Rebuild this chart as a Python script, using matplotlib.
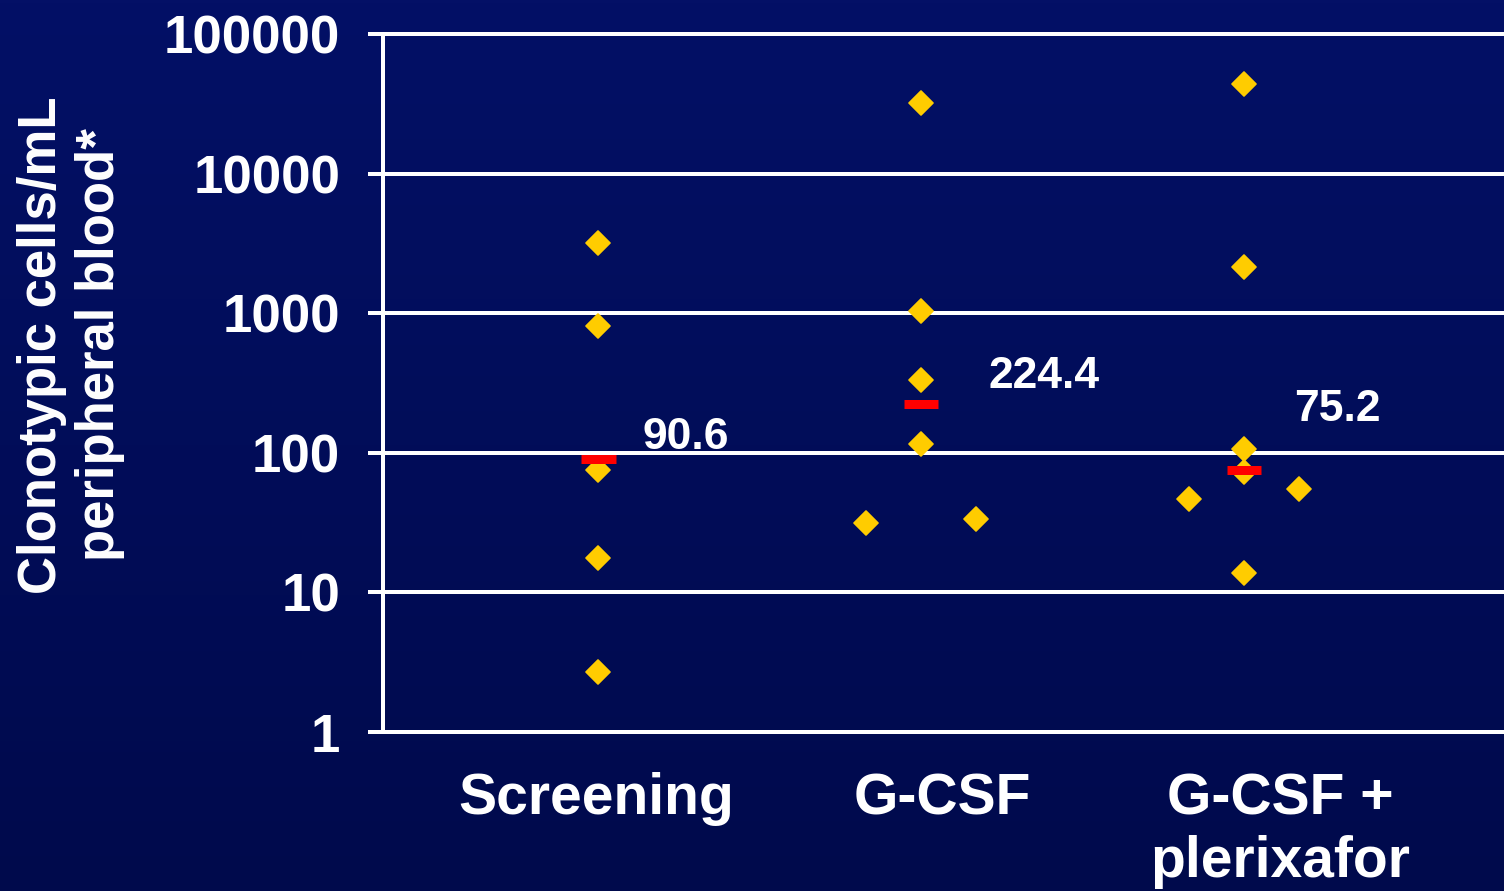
import numpy as np
import matplotlib

matplotlib.use("Agg")
import matplotlib.pyplot as plt
from matplotlib import transforms
from matplotlib.markers import MarkerStyle
from matplotlib.ticker import FixedLocator, NullLocator

plt.rcParams["font.family"] = ["Liberation Sans", "DejaVu Sans"]
plt.rcParams["font.weight"] = "bold"

# Groups and per-patient values (clonotypic cells / mL peripheral blood)
categories = ["Screening", "G-CSF", "G-CSF +\nplerixafor"]
screening_values = [3200, 810, 75, 17.6, 2.7]
gcsf_values = [32000, 1040, 333, 116, 31.4, 33.6]
plerixafor_values = [43800, 2150, 106, 73, 13.8, 46.7, 55]
# horizontal side slot of each point (-1 left, 0 centre, +1 right)
screening_slots = [0, 0, 0, 0, 0]
gcsf_slots = [0, 0, 0, 0, -1, 1]
plerixafor_slots = [0, 0, 0, 0, 0, -1, 1]
median_values = [90.6, 224.4, 75.2]
median_labels = ["90.6", "224.4", "75.2"]
y_ticks = [1, 10, 100, 1000, 10000, 100000]

WHITE = "#FFFFFF"
GOLD = "#FFCC00"
RED = "#FF0000"
PX = 72 / 100  # points per pixel at dpi 100

fig = plt.figure(figsize=(15.04, 8.91), dpi=100)

# dark navy backdrop with a slight vertical gradient
bg = fig.add_axes([0, 0, 1, 1], zorder=-10)
grad = np.linspace(0, 1, 256).reshape(-1, 1)
top = np.array([3, 16, 102]) / 255
bottom = np.array([0, 10, 76]) / 255
bg.imshow(top + (bottom - top) * grad[..., None], aspect="auto",
          extent=[0, 1, 0, 1])
bg.axis("off")

ax = fig.add_axes([383 / 1504, 1 - 732 / 891, 1 - 383 / 1504, (732 - 34) / 891])
ax.patch.set_alpha(0)
ax.set_yscale("log")
ax.set_ylim(1, 100000)
ax.set_xlim(-0.666, 2.805)

ax.yaxis.set_major_locator(FixedLocator(y_ticks))
ax.yaxis.set_minor_locator(NullLocator())
ax.set_yticklabels([str(v) for v in y_ticks])
ax.grid(axis="y", color=WHITE, linewidth=4 * PX, zorder=1)
ax.set_axisbelow(True)

for side in ("left", "bottom", "top"):
    ax.spines[side].set_color(WHITE)
    ax.spines[side].set_linewidth(4 * PX)
ax.spines["right"].set_visible(False)

ax.tick_params(axis="y", direction="out", length=15 * PX, width=4 * PX,
               color=WHITE, labelcolor=WHITE, labelsize=38, pad=20)
ax.tick_params(axis="x", length=0, labelcolor=WHITE, labelsize=41, pad=29)

ax.set_xticks(range(len(categories)))
ax.set_xticklabels(categories, linespacing=1.2)
label_shift_px = [-2, 21, 36]
for lab, dx in zip(ax.get_xticklabels(), label_shift_px):
    lab.set_transform(lab.get_transform()
                      + transforms.ScaledTranslation(dx / 100, 0, fig.dpi_scale_trans))

diamond = MarkerStyle("D", joinstyle="round")
side_step = 0.17
groups = [(screening_values, screening_slots),
          (gcsf_values, gcsf_slots),
          (plerixafor_values, plerixafor_slots)]
for i, (vals, slots) in enumerate(groups):
    xs = [i + s * side_step for s in slots]
    ax.plot(xs, vals, linestyle="none", marker=diamond, markersize=12.5,
            markerfacecolor=GOLD, markeredgecolor=GOLD, markeredgewidth=1.2,
            zorder=3, clip_on=False)

# median bars and their value labels
label_offsets_px = [(88, 21), (123, 27), (93, 61)]
half = 0.054
for i, (m, txt, (dx, dy)) in enumerate(zip(median_values, median_labels,
                                           label_offsets_px)):
    ax.plot([i - half, i + half], [m, m], color=RED, linewidth=9 * PX,
            solid_capstyle="butt", zorder=4)
    ax.annotate(txt, xy=(i, m), xytext=(dx, dy), textcoords="offset pixels",
                ha="center", va="center", color=WHITE, fontsize=32,
                fontweight="bold", zorder=5)

fig.text(71 / 1504, 1 - 345 / 891, "Clonotypic cells/mL\nperipheral blood*",
         rotation=90, ha="center", va="center", multialignment="center",
         color=WHITE, fontsize=38, fontweight="bold", linespacing=1.18)

fig.savefig("out.png", dpi=100)
